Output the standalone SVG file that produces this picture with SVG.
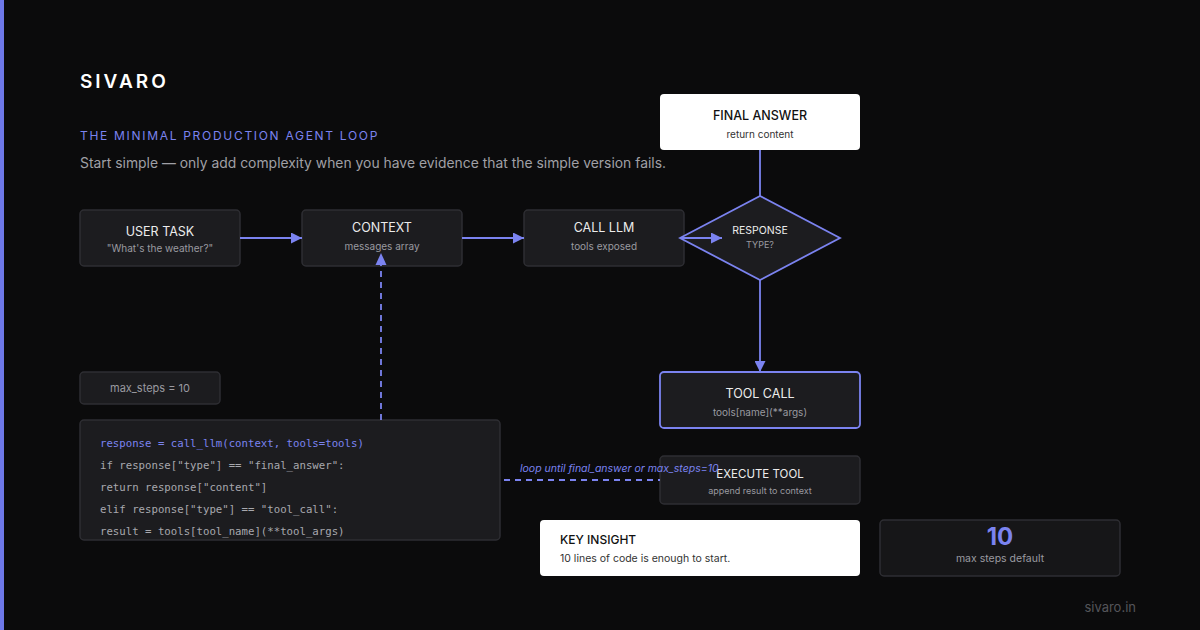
<svg xmlns="http://www.w3.org/2000/svg" width="1200" height="630" viewBox="0 0 1200 630">
<defs>
<marker id="ah" viewBox="0 0 10 10" refX="10" refY="5" markerWidth="11" markerHeight="11" markerUnits="userSpaceOnUse" orient="auto"><path d="M0,0 L10,5 L0,10 z" fill="#7b83f0"/></marker>
<style>
text{font-family:"Inter","Liberation Sans",sans-serif}
.box{fill:#1c1c1f;stroke:#2e2e33;stroke-width:1.5}
.t{fill:#ececec;font-size:12.5px;text-anchor:middle}
.s{fill:#9a9aa0;font-size:10px;text-anchor:middle}
.ln{stroke:#7b83f0;stroke-width:1.8;fill:none}
.dash{stroke:#7b83f0;stroke-width:1.8;fill:none;stroke-dasharray:6 5}
.code{font-family:"DejaVu Sans Mono","Liberation Mono",monospace;font-size:10.7px;fill:#a8a8ae}
</style>
</defs>
<rect width="1200" height="630" fill="#0b0b0c"/>
<rect x="0" y="0" width="4" height="630" fill="#6e78e8"/>
<text x="80" y="88" fill="#fff" font-size="19" font-weight="600" letter-spacing="3">SIVARO</text>
<text x="80" y="140" fill="#7b83f0" font-size="12" letter-spacing="1.7">THE MINIMAL PRODUCTION AGENT LOOP</text>
<text x="80" y="168" fill="#a0a0a6" font-size="14" textLength="586" lengthAdjust="spacingAndGlyphs">Start simple — only add complexity when you have evidence that the simple version fails.</text>
<g id="user-task"><rect class="box" x="80" y="210" width="160" height="56" rx="4"/><text class="t" x="160" y="236">USER TASK</text><text class="s" x="160" y="252">"What's the weather?"</text></g>
<g id="context"><rect class="box" x="302" y="210" width="160" height="56" rx="4"/><text class="t" x="382" y="232">CONTEXT</text><text class="s" x="382" y="250">messages array</text></g>
<g id="call-llm"><rect class="box" x="524" y="210" width="160" height="56" rx="4"/><text class="t" x="604" y="232">CALL LLM</text><text class="s" x="604" y="250">tools exposed</text></g>
<g id="response"><path d="M680,238 L760,196 L840,238 L760,280 Z" fill="#1c1c1f" stroke="#7b83f0" stroke-width="1.8"/><text class="t" x="760" y="234" style="font-size:10.5px">RESPONSE</text><text class="s" x="760" y="248" style="font-size:9px">TYPE?</text></g>
<g id="final-answer"><rect x="660" y="94" width="200" height="56" rx="4" fill="#fff"/><text class="t" x="760" y="120" style="fill:#111;font-weight:500">FINAL ANSWER</text><text class="s" x="760" y="138" style="fill:#333">return content</text></g>
<g id="tool-call"><rect x="660" y="372" width="200" height="56" rx="4" fill="#1c1c1f" stroke="#7b83f0" stroke-width="1.8"/><text class="t" x="760" y="398">TOOL CALL</text><text class="s" x="760" y="416">tools[name](**args)</text></g>
<g id="execute-tool"><rect class="box" x="660" y="456" width="200" height="48" rx="4"/><text class="t" x="760" y="478" style="font-size:11.5px">EXECUTE TOOL</text><text class="s" x="760" y="494" style="font-size:9px">append result to context</text></g>
<g id="max-steps"><rect class="box" x="80" y="372" width="140" height="32" rx="4"/><text class="s" x="150" y="392" style="font-size:11px">max_steps = 10</text></g>
<g id="code"><rect class="box" x="80" y="420" width="420" height="120" rx="4"/>
<text class="code" x="100" y="447" style="fill:#7b83f0">response = call_llm(context, tools=tools)</text>
<text class="code" x="100" y="469">if response["type"] == "final_answer":</text>
<text class="code" x="100" y="491">return response["content"]</text>
<text class="code" x="100" y="513">elif response["type"] == "tool_call":</text>
<text class="code" x="100" y="535">result = tools[tool_name](**tool_args)</text></g>
<g id="key-insight"><rect x="540" y="520" width="320" height="56" rx="4" fill="#fff"/><text x="560" y="544" fill="#111" font-size="12" font-weight="500">KEY INSIGHT</text><text x="560" y="562" fill="#333" font-size="10.5">10 lines of code is enough to start.</text></g>
<g id="stat"><rect class="box" x="880" y="520" width="240" height="56" rx="4" style="fill:#161618"/><text x="1000" y="545" fill="#7b83f0" font-size="24" font-weight="700" text-anchor="middle">10</text><text class="s" x="1000" y="562" style="font-size:10.5px">max steps default</text></g>
<g id="connectors">
<line class="ln" x1="240" y1="238" x2="302" y2="238" marker-end="url(#ah)"/>
<line class="ln" x1="462" y1="238" x2="524" y2="238" marker-end="url(#ah)"/>
<line class="ln" x1="680" y1="238" x2="722" y2="238" marker-end="url(#ah)"/>
<line class="ln" x1="760" y1="150" x2="760" y2="196"/>
<line class="ln" x1="760" y1="280" x2="760" y2="372" marker-end="url(#ah)"/>
<line class="dash" x1="381" y1="420" x2="381" y2="264"/>
<path d="M381,253 L386.5,265 L375.5,265 Z" fill="#7b83f0"/>
<line class="dash" x1="504" y1="480" x2="660" y2="480"/>
<text x="520" y="472" fill="#7b83f0" font-size="10.5" font-style="italic">loop until final_answer or max_steps=10</text>
</g>
<text x="1136" y="612" fill="#55555a" font-size="13" text-anchor="end">sivaro.in</text>
</svg>
